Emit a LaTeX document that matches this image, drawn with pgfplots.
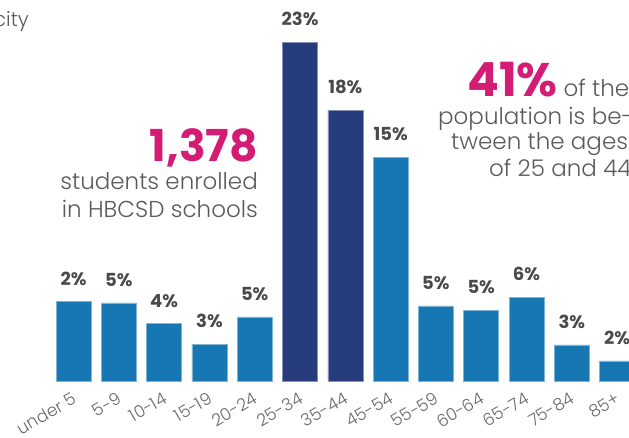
\documentclass[border=0pt]{standalone}
\usepackage{pgfplots}
\pgfplotsset{compat=1.18}
\usepackage{pgfplotstable}
\usepackage{fontspec}
\setmainfont{Poppins}
\newfontfamily\lightfont{Poppins Light}
\definecolor{lightbar}{HTML}{1777B2}
\definecolor{darkbar}{HTML}{253B7B}
\definecolor{pinkc}{HTML}{D41C74}
\definecolor{txtgray}{HTML}{5A5A5A}
\definecolor{labgray}{HTML}{4A4A4A}
\definecolor{tickgray}{HTML}{6A6A6A}

\pgfplotstableread{
x y lab
0 5.4 2
1 5.3 5
2 3.9 4
3 2.5 3
4 4.35 5
7 15.2 15
8 5.1 5
9 4.8 5
10 5.7 6
11 2.45 3
12 1.36 2
}\lightdata
\pgfplotstableread{
x y lab
5 23.0 23
6 18.4 18
}\darkdata

\begin{document}
\begin{tikzpicture}
\begin{scope}
\clip (0pt,0pt) rectangle (629pt,437pt);
\begin{axis}[
  at={(50.85pt,56pt)}, anchor=south west,
  scale only axis, x=45.3pt, y=14.72pt,
  xmin=-0.5, xmax=12.5, ymin=0, ymax=26,
  clip=false,
  ybar, bar width=35pt, bar shift=0pt,
  axis line style={draw=none}, major tick length=0pt, ytick=\empty,
  xtick={0,...,12},
  xticklabels={under 5,5-9,10-14,15-19,20-24,25-34,35-44,45-54,55-59,60-64,65-74,75-84,85+},
  xticklabel style={rotate=30, anchor=north east, font=\lightfont\fontsize{17}{17}\selectfont, text=tickgray, inner sep=0pt, yshift=-8pt, xshift=-7pt},
  point meta=explicit symbolic,
  nodes near coords={\pgfplotspointmeta\%},
  nodes near coords align={vertical},
  every node near coord/.append style={anchor=south, inner sep=0pt, yshift=16pt, font=\bfseries\fontsize{18}{18}\selectfont, text=labgray},
]
\addplot[fill=lightbar, draw=lightbar!55!white, line width=0.6pt] table[x=x, y=y, meta=lab] {\lightdata};
\addplot[fill=darkbar, draw=darkbar!55!white, line width=0.6pt] table[x=x, y=y, meta=lab] {\darkdata};
\end{axis}
% annotations
\node[anchor=base east, inner sep=0pt, text=txtgray, font=\lightfont\fontsize{20}{20}\selectfont] at (29pt,410pt) {city};
\node[anchor=base east, inner sep=0pt, text=pinkc, font=\bfseries\fontsize{44}{44}\selectfont] at (258pt,275pt) {1,378};
\node[anchor=base east, inner sep=0pt, text=txtgray, font=\lightfont\fontsize{23}{23}\selectfont] at (258pt,247pt) {students enrolled};
\node[anchor=base east, inner sep=0pt, text=txtgray, font=\lightfont\fontsize{23}{23}\selectfont] at (258pt,219pt) {in HBCSD schools};
\node[anchor=base west, inner sep=0pt, text=txtgray, font=\lightfont\fontsize{23}{23}\selectfont] at (467pt,340pt) {{\color{pinkc}\normalfont\bfseries\fontsize{47}{47}\selectfont 41\%}\hspace{6pt}of the};
\node[anchor=base west, inner sep=0pt, text=txtgray, font=\lightfont\fontsize{23}{23}\selectfont] at (438pt,312pt) {population is be-};
\node[anchor=base west, inner sep=0pt, text=txtgray, font=\lightfont\fontsize{23}{23}\selectfont] at (451pt,287pt) {tween the ages};
\node[anchor=base west, inner sep=0pt, text=txtgray, font=\lightfont\fontsize{23}{23}\selectfont] at (489pt,260pt) {of 25 and 44};
\end{scope}
\pgfresetboundingbox
\useasboundingbox (0pt,0pt) rectangle (629pt,437pt);
\end{tikzpicture}
\end{document}
